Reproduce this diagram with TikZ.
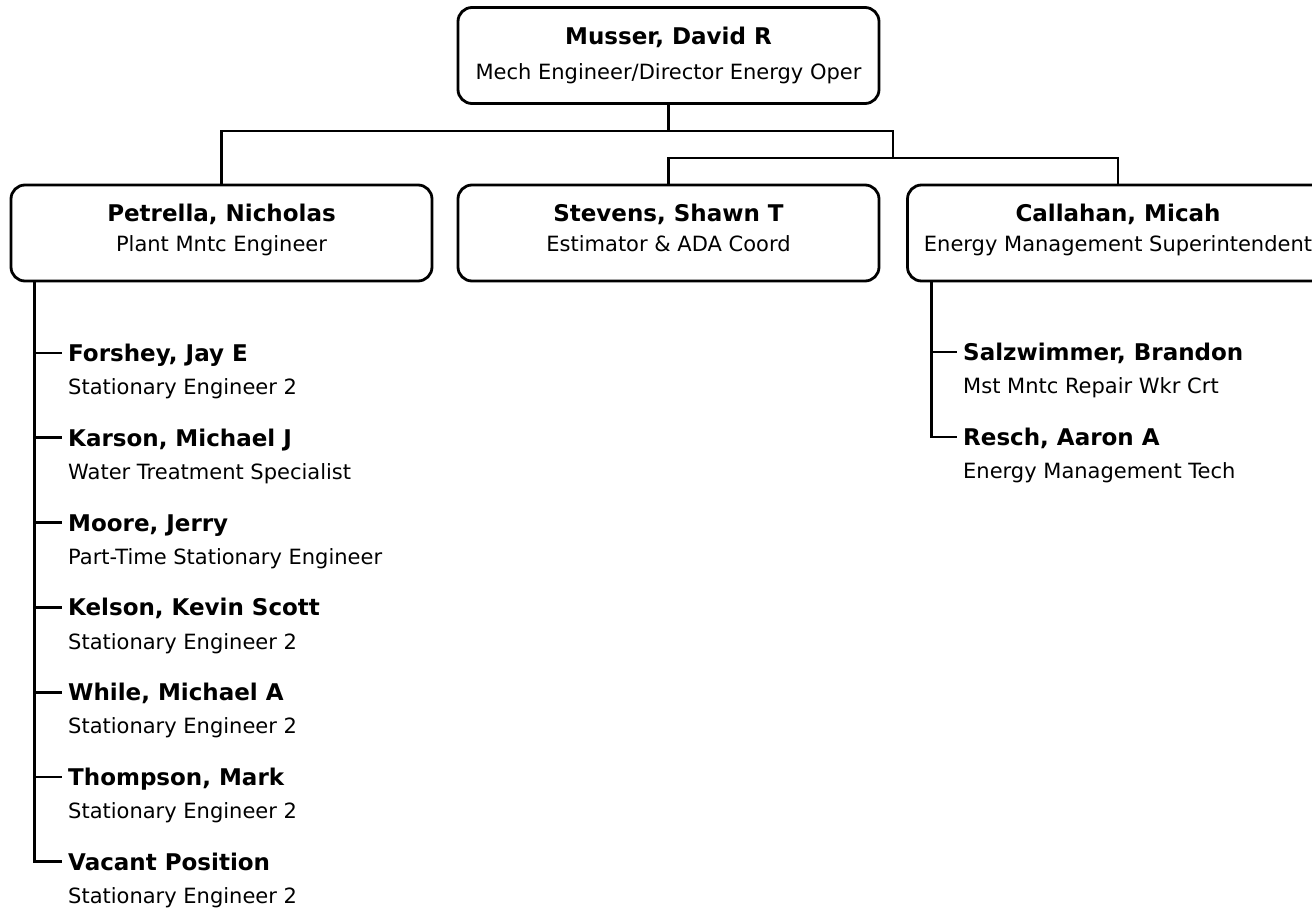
\documentclass[tikz,border=0pt]{standalone}
\usepackage{fontspec}
\setmainfont{DejaVu Sans}
\begin{document}
\begin{tikzpicture}[x=1pt,y=-1pt,
  box/.style={draw,line width=2.8pt,rounded corners=14pt,minimum width=421pt,minimum height=96pt,inner sep=0pt},
  nm/.style={inner sep=0pt,font=\fontsize{23}{27}\selectfont\bfseries},
  tl/.style={inner sep=0pt,font=\fontsize{21}{25}\selectfont},
  conn/.style={line width=2.8pt},
]
\clip (0,0) rectangle (1312,908);
\fill[white] (0,0) rectangle (1312,908);

% top box
\node[box] (musser) at (668.5,55.5) {};
\node[nm,anchor=base] (musserN) at (668.5,44) {Musser, David R};
\node[tl,anchor=base] (musserT) at (668.5,79.7) {Mech Engineer/Director Energy Oper};

% second level
\node[box] (petrella) at (221.5,233) {};
\node[nm,anchor=base] (petrellaN) at (221.5,221.7) {Petrella, Nicholas};
\node[tl,anchor=base] (petrellaT) at (221.5,251.7) {Plant Mntc Engineer};

\node[box] (stevens) at (668.5,233) {};
\node[nm,anchor=base] (stevensN) at (668.5,221.7) {Stevens, Shawn T};
\node[tl,anchor=base] (stevensT) at (668.5,251.7) {Estimator \& ADA Coord};

\node[box] (callahan) at (1118,233) {};
\node[nm,anchor=base] (callahanN) at (1118,221.7) {Callahan, Micah};
\node[tl,anchor=base] (callahanT) at (1118,251.7) {Energy Management Superintendent};

% connectors top
\coordinate (j1) at (668.5,131);
\coordinate (j3) at (893,158);
\draw[conn] (musser.south) -- (j1);
\draw[conn] (petrella.north) |- (j1) -| (j3);
\draw[conn] (stevens.north) |- (j3) -| (callahan.north);

% left list
\node[nm,anchor=base west] (forshey) at (68,361.4) {Forshey, Jay E};
\node[tl,anchor=base west] (forsheyT) at (68,394.7) {Stationary Engineer 2};
\node[nm,anchor=base west] (karson) at (68,446.2) {Karson, Michael J};
\node[tl,anchor=base west] (karsonT) at (68,479.5) {Water Treatment Specialist};
\node[nm,anchor=base west] (moore) at (68,531) {Moore, Jerry};
\node[tl,anchor=base west] (mooreT) at (68,564.3) {Part-Time Stationary Engineer};
\node[nm,anchor=base west] (kelson) at (68,615.8) {Kelson, Kevin Scott};
\node[tl,anchor=base west] (kelsonT) at (68,649.1) {Stationary Engineer 2};
\node[nm,anchor=base west] (while) at (68,700.6) {While, Michael A};
\node[tl,anchor=base west] (whileT) at (68,733.9) {Stationary Engineer 2};
\node[nm,anchor=base west] (thompson) at (68,785.4) {Thompson, Mark};
\node[tl,anchor=base west] (thompsonT) at (68,818.7) {Stationary Engineer 2};
\node[nm,anchor=base west] (vacant) at (68,870.2) {Vacant Position};
\node[tl,anchor=base west] (vacantT) at (68,903.5) {Stationary Engineer 2};

\coordinate (pl) at ([xshift=25pt]petrella.south west);
\foreach \n in {forshey,karson,moore,kelson,while,thompson,vacant}{
  \coordinate (\n-t) at ([xshift=-6pt,yshift=8.4pt]\n.base west);
}
\draw[conn] (pl) |- (vacant-t);
\foreach \n in {forshey,karson,moore,kelson,while,thompson}{
  \draw[conn] (pl |- \n-t) -- (\n-t);
}

% right list
\node[nm,anchor=base west] (salz) at (963,360.4) {Salzwimmer, Brandon};
\node[tl,anchor=base west] (salzT) at (963,393.7) {Mst Mntc Repair Wkr Crt};
\node[nm,anchor=base west] (resch) at (963,445.4) {Resch, Aaron A};
\node[tl,anchor=base west] (reschT) at (963,478.7) {Energy Management Tech};

\coordinate (cl) at ([xshift=25pt]callahan.south west);
\coordinate (salz-t) at ([xshift=-6pt,yshift=8.4pt]salz.base west);
\coordinate (resch-t) at ([xshift=-6pt,yshift=8.4pt]resch.base west);
\draw[conn] (cl) |- (resch-t);
\draw[conn] (cl |- salz-t) -- (salz-t);
\end{tikzpicture}
\end{document}
